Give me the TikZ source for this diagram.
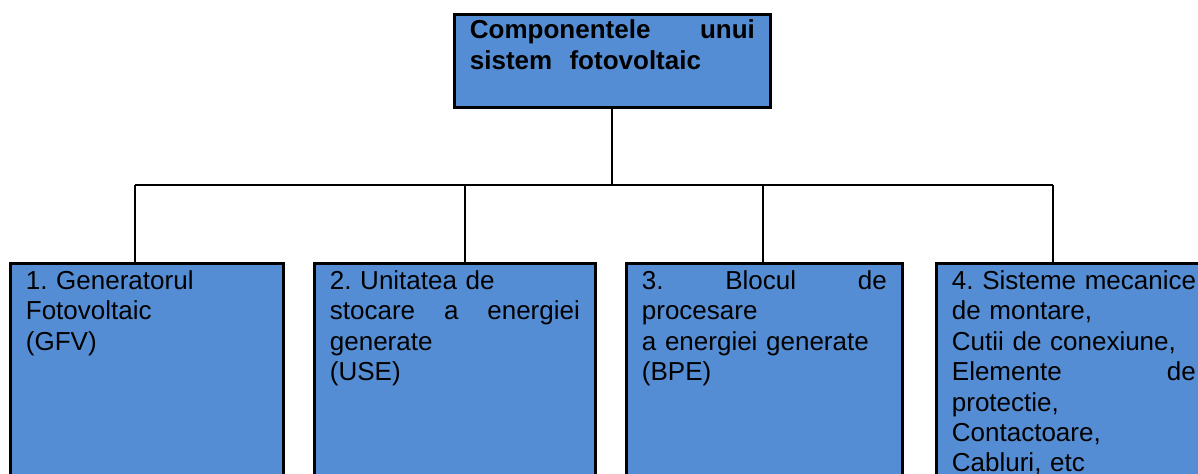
\documentclass[tikz,border=0pt]{standalone}
\usepackage{fontspec}
\setmainfont{Liberation Sans}
\usetikzlibrary{positioning}
\frenchspacing
\definecolor{pvblue}{RGB}{84,141,212}
\tikzset{
  box/.style={draw=black, line width=1.4pt, fill=pvblue, anchor=north west,
    align=left, inner xsep=7.75pt, text height=9.5pt},
  titlebox/.style={box, inner ysep=2.5pt, text depth=32pt,
    font=\fontsize{13pt}{15.5pt}\selectfont\bfseries},
  partbox/.style={box, inner ysep=3.5pt, text depth=102.5pt,
    font=\fontsize{13pt}{15.2pt}\selectfont},
  wire/.style={line width=1pt}
}
\begin{document}
\begin{tikzpicture}[x=0.5pt, y=-0.5pt]
\useasboundingbox (0,0) rectangle (1198,473);
\clip (0,0) rectangle (1198,473);

\node[titlebox, text width=142.5pt] (comp) at (453,13)
  {Componentele\hfill unui\\sistem\ \ fotovoltaic};

\node[partbox, text width=121pt] (gfv) at (9,262)
  {1. Generatorul\\Fotovoltaic\\(GFV)};
\node[partbox, text width=125pt] (use) at (313,262)
  {2. Unitatea de\\stocare\hfill a\hfill energiei\\generate\\(USE)};
\node[partbox, text width=122.5pt] (bpe) at (625,262)
  {3.\hfill Blocul\hfill de\\procesare\\a energiei generate\\(BPE)};
\node[partbox, text width=122pt] (mec) at (935,262)
  {\mbox{4. Sisteme mecanice}\\de montare,\\Cutii de conexiune,\\Elemente\hfill de\\protectie,\\Contactoare,\\Cabluri, etc};

% branches
\foreach \x/\b in {135/gfv, 465/use, 763/bpe, 1053/mec} {
  \coordinate (j\b) at (\x,185);
  \draw[wire] (j\b) -- (j\b |- \b.north);
}
\draw[wire] (jgfv) -- (jmec);
\draw[wire] (comp.south) -- (comp.south |- jgfv);
\end{tikzpicture}
\end{document}
